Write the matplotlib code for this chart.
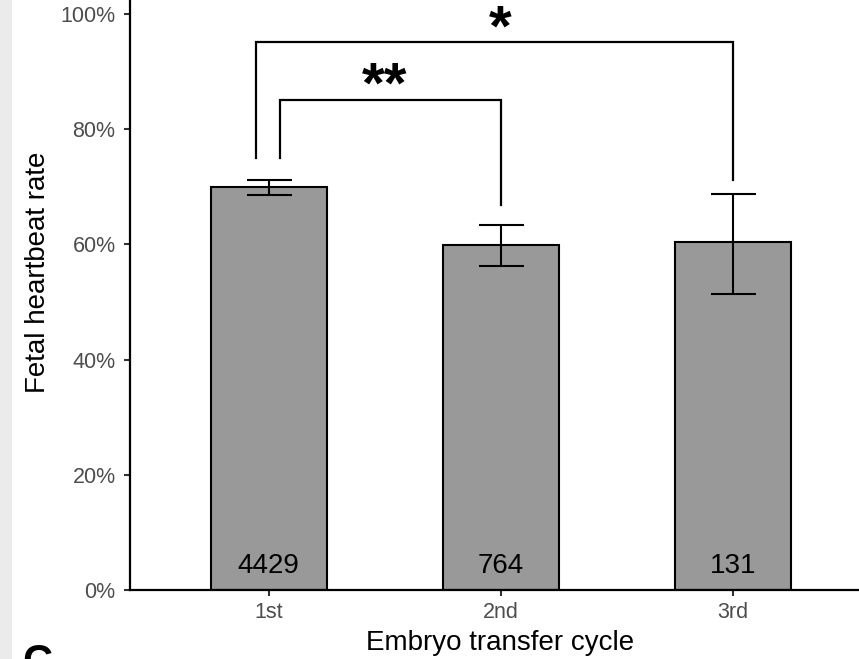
import matplotlib

matplotlib.use("Agg")
import matplotlib.pyplot as plt
from matplotlib.patches import Rectangle
from matplotlib.ticker import FuncFormatter

plt.rcParams["font.family"] = ["Liberation Sans", "DejaVu Sans"]

# values
cycles = ["1st", "2nd", "3rd"]
heartbeat_rate = [70.0, 59.9, 60.4]
ci_low = [68.6, 56.3, 51.4]
ci_high = [71.2, 63.4, 68.75]
n_transfers = [4429, 764, 131]

# significance brackets: x ends, top, leg bottoms, label and its spot
bracket_x_left = [1.05, 0.945]
bracket_x_right = [2.0, 3.0]
bracket_top = [85.1, 95.1]
bracket_left_bottom = [75.0, 75.0]
bracket_right_bottom = [66.8, 71.2]
bracket_label = ["**", "*"]
bracket_label_x = [1.5, 2.0]
bracket_label_y = [84.7, 94.6]

W, H = 859, 659
fig = plt.figure(figsize=(W / 100, H / 100), dpi=100)
fig.patches.append(
    Rectangle((0, 0), 12 / W, 1, transform=fig.transFigure,
              facecolor="#ebebeb", edgecolor="none", zorder=0)
)

ax = fig.add_axes([129.5 / W, 69 / H, 742.4 / W, 599 / H])
ax.set_facecolor("none")

x = [1, 2, 3]
ax.bar(x, heartbeat_rate, width=0.5, color="#999999", edgecolor="black",
       linewidth=1.5, zorder=2)

yerr = [
    [r - lo for r, lo in zip(heartbeat_rate, ci_low)],
    [hi - r for r, hi in zip(heartbeat_rate, ci_high)],
]
ax.errorbar(x, heartbeat_rate, yerr=yerr, fmt="none", ecolor="black",
            elinewidth=1.5, capsize=16.2, capthick=1.5, zorder=3)

for xi, n in zip(x, n_transfers):
    ax.text(xi, 4.2, str(n), ha="center", va="center", fontsize=20,
            color="black", zorder=4)

for xl, xr, top, lb, rb in zip(bracket_x_left, bracket_x_right, bracket_top,
                               bracket_left_bottom, bracket_right_bottom):
    ax.plot([xl, xl, xr, xr], [lb, top, top, rb], color="black",
            linewidth=1.6, solid_joinstyle="miter", zorder=3)

for lab, lx, ly in zip(bracket_label, bracket_label_x, bracket_label_y):
    ax.text(lx, ly, lab, ha="center", va="baseline", fontsize=42,
            fontweight="bold", color="black")

ax.set_xlim(0.4, 3.6)
ax.set_ylim(0, 104)
ax.set_xticks(x)
ax.set_xticklabels(cycles)
ax.set_yticks([0, 20, 40, 60, 80, 100])
ax.yaxis.set_major_formatter(FuncFormatter(lambda v, _: f"{v:.0f}%"))

for side in ("top", "right"):
    ax.spines[side].set_visible(False)
for side in ("left", "bottom"):
    ax.spines[side].set_linewidth(1.6)
    ax.spines[side].set_color("black")

ax.tick_params(axis="both", length=4.5, width=1.5, color="#333333",
               labelsize=15.5, labelcolor="#4d4d4d")
ax.tick_params(axis="y", pad=5.5)
ax.tick_params(axis="x", pad=4.5)

# axis titles placed as figure text so they sit where the reference has them
fig.text(500 / W, (H - 650) / H, "Embryo transfer cycle", fontsize=20,
         ha="center", va="baseline", color="black")
fig.text(38.5 / W, (H - 272) / H, "Fetal heartbeat rate", fontsize=20,
         rotation=90, ha="center", va="center", color="black")

fig.text(22 / W, -15 / H, "C", fontsize=30, fontweight="bold",
         ha="left", va="baseline", color="black")

fig.savefig("out.png", dpi=100)
